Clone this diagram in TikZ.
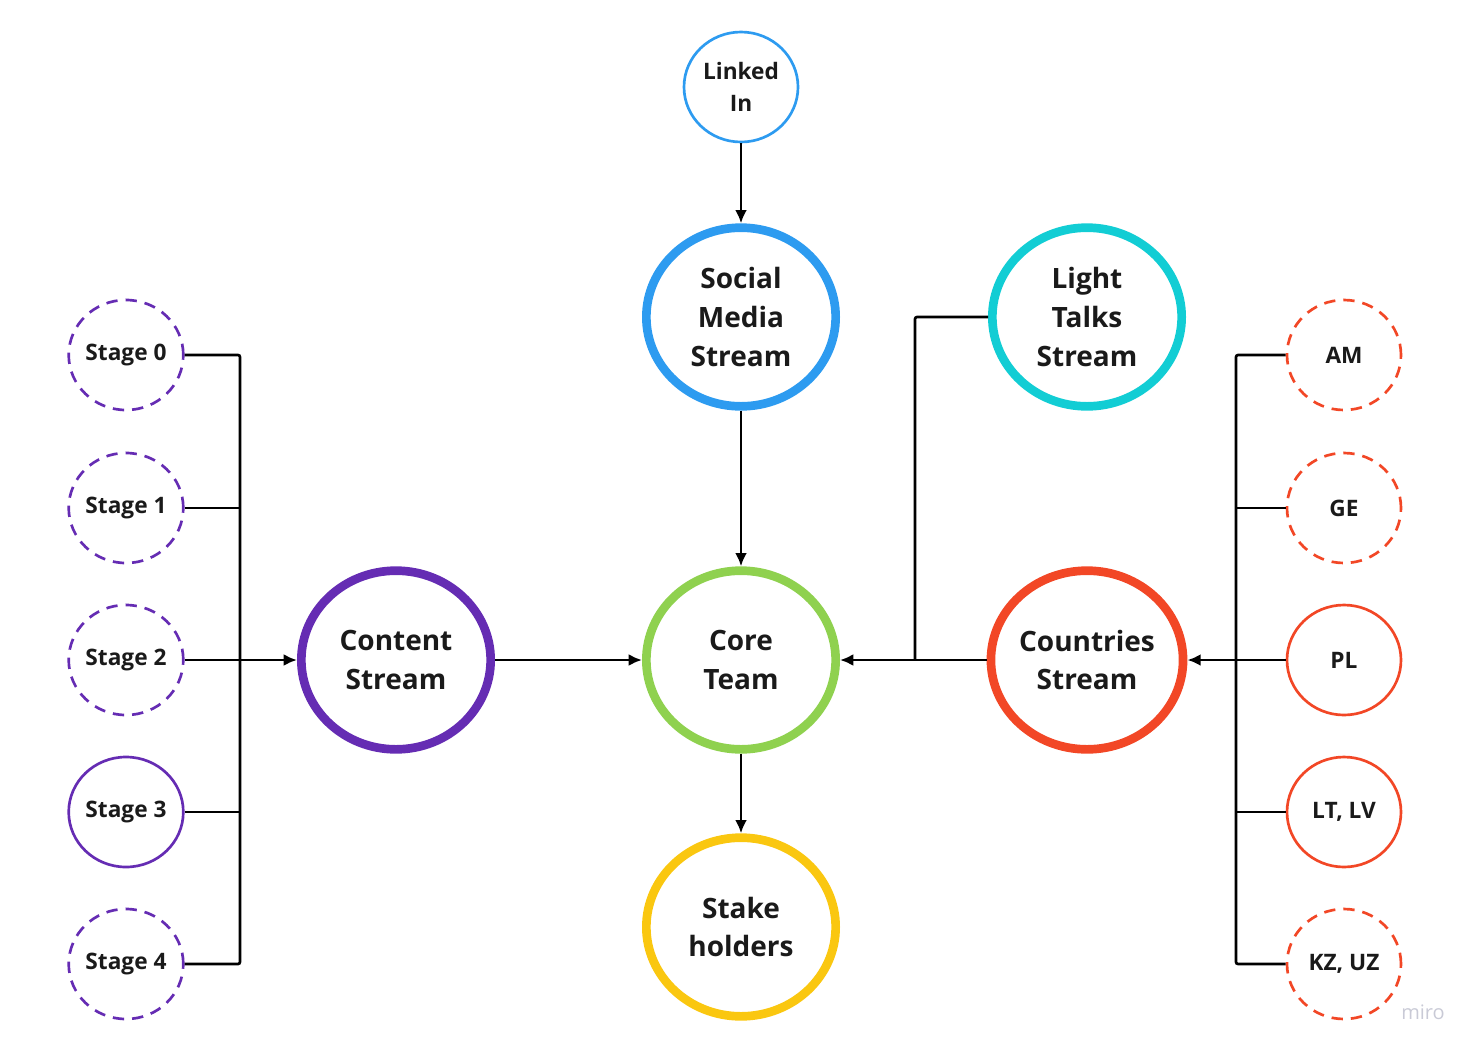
\documentclass[tikz,border=0pt]{standalone}
\usepackage{fontspec}
\setmainfont{Open Sans}
\usetikzlibrary{shapes.geometric,arrows.meta}
\definecolor{mblue}{HTML}{2D9BF0}
\definecolor{mcyan}{HTML}{12CDD4}
\definecolor{mgreen}{HTML}{8FD14F}
\definecolor{mpurple}{HTML}{652CB3}
\definecolor{mred}{HTML}{F24726}
\definecolor{myellow}{HTML}{FAC710}
\definecolor{mtext}{HTML}{1A1A1A}
\definecolor{mgray}{HTML}{C9CAD6}
\tikzset{
  big/.style={ellipse,draw=#1,line width=6.5pt,minimum width=142pt,minimum height=134pt,inner sep=0pt,align=center,font=\fontsize{21}{29}\selectfont\bfseries,text=mtext},
  small/.style={ellipse,draw=#1,line width=2pt,minimum width=85.5pt,minimum height=82.5pt,inner sep=0pt,align=center,font=\fontsize{17}{24}\selectfont\bfseries,text=mtext},
  dashring/.style={dash pattern=on 8.5pt off 6pt},
  link/.style={line width=2pt,rounded corners=1.5pt},
  arr/.style={link,-{Latex[length=10pt,width=9pt]}}
}
\begin{document}
\begin{tikzpicture}[x=0.75pt,y=-0.75pt]
\useasboundingbox (0,0) rectangle (1481,1054);
\draw (741,87) node[small=mblue](linkedin) {Linked\\In};
\draw (741,317) node[big=mblue](social) {Social\\Media\\Stream};
\draw (1087,317) node[big=mcyan](light) {Light\\Talks\\Stream};
\draw (741,660) node[big=mgreen](core) {Core\\Team};
\draw (396,660) node[big=mpurple](content) {Content\\Stream};
\draw (1087,660) node[big=mred](countries) {Countries\\Stream};
\draw (741,927) node[big=myellow](stake) {Stake\\holders};
\draw (126,355) node[small=mpurple,dashring](s0) {Stage 0};
\draw (126,508) node[small=mpurple,dashring](s1) {Stage 1};
\draw (126,660) node[small=mpurple,dashring](s2) {Stage 2};
\draw (126,812) node[small=mpurple](s3) {Stage 3};
\draw (126,964) node[small=mpurple,dashring](s4) {Stage 4};
\draw (1344,355) node[small=mred,dashring](am) {AM};
\draw (1344,508) node[small=mred,dashring](ge) {GE};
\draw (1344,660) node[small=mred](pl) {PL};
\draw (1344,812) node[small=mred](ltlv) {LT, LV};
\draw (1344,964) node[small=mred,dashring](kzuz) {KZ, UZ};
\coordinate (lbus) at (240,660);
\coordinate (rbus) at (1236,660);
\coordinate (tbus) at (915,660);
\draw[link] (s0.east) -| (lbus);
\draw[link] (s4.east) -| (lbus);
\draw[link] (s1.east) -- (s1.east -| lbus);
\draw[link] (s2.east) -- (lbus);
\draw[link] (s3.east) -- (s3.east -| lbus);
\draw[arr] (lbus) -- (content);
\draw[link] (am.west) -| (rbus);
\draw[link] (kzuz.west) -| (rbus);
\draw[link] (ge.west) -- (ge.west -| rbus);
\draw[link] (pl.west) -- (rbus);
\draw[link] (ltlv.west) -- (ltlv.west -| rbus);
\draw[arr] (rbus) -- (countries);
\draw[link] (light.west) -| (tbus);
\draw[arr] (countries) -- (core);
\draw[arr] (content) -- (core);
\draw[arr] (linkedin) -- (social);
\draw[arr] (social) -- (core);
\draw[arr] (core) -- (stake);
\node[text=mgray,font=\fontsize{15}{18}\selectfont] (miro) at (1423,1012) {miro};
\end{tikzpicture}
\end{document}
